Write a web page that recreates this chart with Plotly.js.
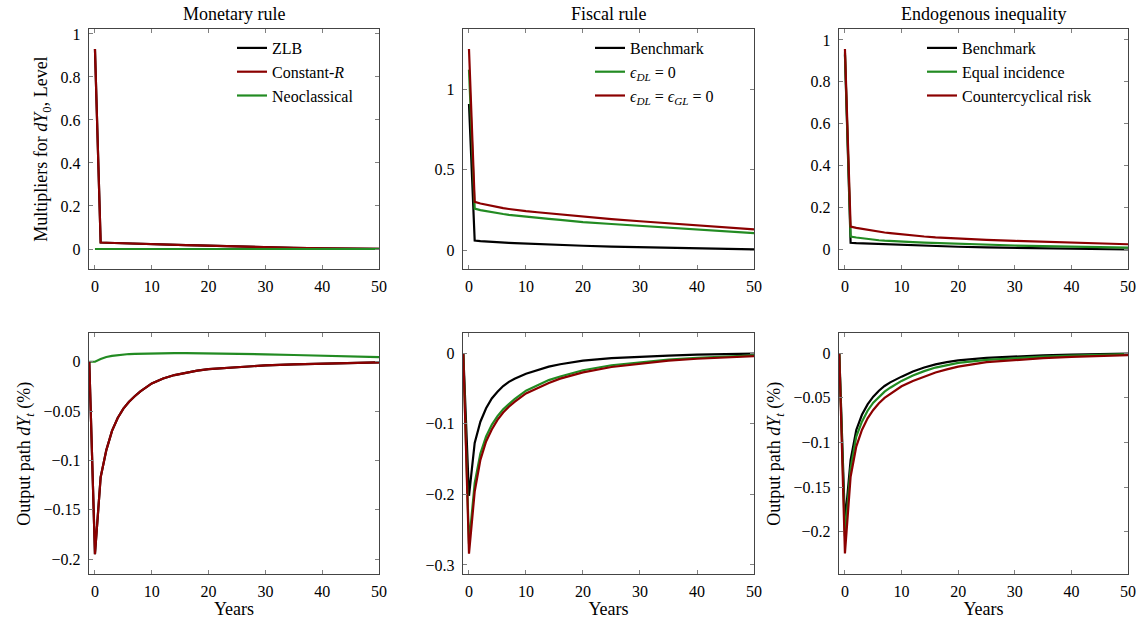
<!DOCTYPE html>
<html>
<head>
<meta charset="utf-8">
<script src="https://cdn.plot.ly/plotly-3.0.1.min.js"></script>
<style>html,body{margin:0;padding:0;background:#fff;}#chart{width:1141px;height:621px;}</style>
</head>
<body>
<div id="chart"></div>
<script>
// ---- time grids ----
const tTop = [0,1,2,3,4,5,6,7,8,10,12,14,16,18,20,25,30,35,40,45,50];
const tBot = [-1,0,1,2,3,4,5,6,7,8,10,12,14,16,18,20,25,30,35,40,45,50];

// ---- Panel 1: Monetary rule, multipliers ----
const monZLB   = [0.93,0.030,0.029,0.028,0.027,0.026,0.025,0.024,0.023,0.0215,0.0205,0.0195,0.018,0.0165,0.015,0.011,0.008,0.0055,0.0035,0.002,0.001];
const monConstR= [0.93,0.030,0.029,0.028,0.027,0.026,0.025,0.024,0.023,0.0215,0.0205,0.0195,0.018,0.0165,0.015,0.011,0.008,0.0055,0.0035,0.002,0.001];
const monNeo   = [0,0,0,0,0,0,0,0,0,0,0,0,0,0,0,0,0,0,0,0,0];

// ---- Panel 2: Fiscal rule, multipliers ----
const fisBench = [0.907,0.060,0.057,0.054,0.052,0.050,0.048,0.046,0.044,0.041,0.038,0.035,0.033,0.030,0.028,0.023,0.019,0.015,0.012,0.009,0.006];
const fisDL    = [1.12,0.258,0.249,0.242,0.236,0.230,0.225,0.220,0.216,0.208,0.201,0.195,0.189,0.182,0.175,0.163,0.152,0.140,0.128,0.117,0.106];
const fisDLGL  = [1.248,0.300,0.290,0.282,0.274,0.267,0.261,0.256,0.251,0.243,0.236,0.229,0.222,0.214,0.207,0.193,0.180,0.167,0.155,0.142,0.130];

// ---- Panel 3: Endogenous inequality, multipliers ----
const endBench = [0.93,0.033,0.031,0.030,0.028,0.027,0.025,0.024,0.023,0.021,0.019,0.018,0.017,0.015,0.014,0.011,0.009,0.006,0.004,0.002,0.001];
const endEqual = [0.94,0.063,0.058,0.054,0.051,0.048,0.045,0.043,0.041,0.038,0.036,0.034,0.032,0.030,0.028,0.024,0.020,0.017,0.014,0.012,0.010];
const endCounter=[0.957,0.110,0.104,0.099,0.094,0.090,0.086,0.082,0.079,0.073,0.068,0.063,0.059,0.056,0.053,0.047,0.042,0.038,0.034,0.030,0.026];

// ---- Panel 4: Monetary rule, output path ----
const pathZLB   = [0,-0.195,-0.117,-0.0895,-0.070,-0.057,-0.0475,-0.0405,-0.035,-0.030,-0.022,-0.017,-0.0135,-0.011,-0.009,-0.0074,-0.0052,-0.0037,-0.0027,-0.0019,-0.0012,-0.0007];
const pathConstR= [0,-0.195,-0.117,-0.0895,-0.070,-0.057,-0.0475,-0.0405,-0.035,-0.030,-0.022,-0.017,-0.0135,-0.011,-0.009,-0.0074,-0.0052,-0.0037,-0.0027,-0.0019,-0.0012,-0.0007];
const pathNeo   = [0,0,0.0027,0.0048,0.006,0.0067,0.0074,0.0078,0.008,0.0082,0.0085,0.0087,0.0088,0.0088,0.0087,0.0086,0.0082,0.0075,0.0068,0.006,0.0053,0.0046];

// ---- Panel 5: Fiscal rule, output path ----
const pathFisBench = [0,-0.202,-0.127,-0.097,-0.078,-0.064,-0.0545,-0.0465,-0.0405,-0.036,-0.029,-0.0235,-0.019,-0.0155,-0.0128,-0.0105,-0.007,-0.0048,-0.0033,-0.002,-0.0012,-0.0005];
const pathFisDL    = [0,-0.27,-0.184,-0.142,-0.118,-0.1015,-0.089,-0.0795,-0.072,-0.065,-0.053,-0.045,-0.038,-0.033,-0.028,-0.024,-0.017,-0.0125,-0.009,-0.0065,-0.0045,-0.003];
const pathFisDLGL  = [0,-0.284,-0.196,-0.151,-0.125,-0.108,-0.0945,-0.084,-0.0757,-0.069,-0.057,-0.049,-0.042,-0.036,-0.031,-0.027,-0.0195,-0.0145,-0.0105,-0.0078,-0.0055,-0.004];

// ---- Panel 6: Endogenous inequality, output path ----
const pathEndBench  = [0,-0.19,-0.1196,-0.086,-0.069,-0.0573,-0.0487,-0.042,-0.0367,-0.0326,-0.0262,-0.0205,-0.016,-0.0125,-0.010,-0.008,-0.0052,-0.0035,-0.0023,-0.0014,-0.0008,-0.0003];
const pathEndEqual  = [0,-0.205,-0.129,-0.0935,-0.0767,-0.0644,-0.0554,-0.0487,-0.043,-0.0386,-0.031,-0.025,-0.020,-0.016,-0.013,-0.0108,-0.0075,-0.0053,-0.0037,-0.0025,-0.0017,-0.001];
const pathEndCounter= [0,-0.2245,-0.1384,-0.1047,-0.086,-0.0729,-0.0636,-0.0561,-0.0501,-0.0456,-0.037,-0.031,-0.026,-0.0215,-0.018,-0.015,-0.010,-0.0075,-0.0055,-0.004,-0.003,-0.002];

// ---- labels ----
const panelTitles = ['Monetary rule','Fiscal rule','Endogenous inequality'];
const monNames = ['ZLB','Constant-<i>R</i>','Neoclassical'];
const fisNames = ['Benchmark','<i>ϵ</i><sub><i>DL</i></sub> = 0','<i>ϵ</i><sub><i>DL</i></sub> = <i>ϵ</i><sub><i>GL</i></sub> = 0'];
const endNames = ['Benchmark','Equal incidence','Countercyclical risk'];

const BLACK = '#000000', RED = '#8b0000', GREEN = '#228b22';
const LW = 2.2;
const FONT = '"Liberation Serif", "DejaVu Serif", serif';

function tr(x, y, name, color, xa, ya, legend, show) {
  return {x: x, y: y, name: name, type: 'scatter', mode: 'lines',
          line: {color: color, width: LW}, xaxis: xa, yaxis: ya,
          legend: legend, showlegend: show, hoverinfo: 'skip'};
}

const data = [
  tr(tTop, monZLB, monNames[0], BLACK, 'x', 'y', 'legend', true),
  tr(tTop, monConstR, monNames[1], RED, 'x', 'y', 'legend', true),
  tr(tTop, monNeo, monNames[2], GREEN, 'x', 'y', 'legend', true),

  tr(tTop, fisBench, fisNames[0], BLACK, 'x2', 'y2', 'legend2', true),
  tr(tTop, fisDL, fisNames[1], GREEN, 'x2', 'y2', 'legend2', true),
  tr(tTop, fisDLGL, fisNames[2], RED, 'x2', 'y2', 'legend2', true),

  tr(tTop, endBench, endNames[0], BLACK, 'x3', 'y3', 'legend3', true),
  tr(tTop, endEqual, endNames[1], GREEN, 'x3', 'y3', 'legend3', true),
  tr(tTop, endCounter, endNames[2], RED, 'x3', 'y3', 'legend3', true),

  tr(tBot, pathNeo, monNames[2], GREEN, 'x4', 'y4', 'legend', false),
  tr(tBot, pathZLB, monNames[0], BLACK, 'x4', 'y4', 'legend', false),
  tr(tBot, pathConstR, monNames[1], RED, 'x4', 'y4', 'legend', false),

  tr(tBot, pathFisBench, fisNames[0], BLACK, 'x5', 'y5', 'legend', false),
  tr(tBot, pathFisDL, fisNames[1], GREEN, 'x5', 'y5', 'legend', false),
  tr(tBot, pathFisDLGL, fisNames[2], RED, 'x5', 'y5', 'legend', false),

  tr(tBot, pathEndBench, endNames[0], BLACK, 'x6', 'y6', 'legend', false),
  tr(tBot, pathEndEqual, endNames[1], GREEN, 'x6', 'y6', 'legend', false),
  tr(tBot, pathEndCounter, endNames[2], RED, 'x6', 'y6', 'legend', false)
];

const W = 1141, H = 621;
const colPx = [[89,379],[463,754],[839,1128]];
const rowPx = [[29,269],[333.3,574]];
const colDom = colPx.map(c => [c[0]/W, c[1]/W]);
const rowDom = rowPx.map(r => [1 - r[1]/H, 1 - r[0]/H]);

function xax(col, row, title) {
  const a = {
    domain: colDom[col], range: [-1.05, 50], anchor: row === 0 ? ['y','y2','y3'][col] : ['y4','y5','y6'][col],
    tickvals: [0,10,20,30,40,50], ticks: 'inside', ticklen: 4, tickwidth: 1, tickcolor: '#808080',
    showline: true, linecolor: '#444444', linewidth: 1.3, mirror: 'allticks',
    showgrid: false, zeroline: false, tickfont: {family: FONT, size: 16, color: '#000'}, ticklabelstandoff: 2
  };
  if (title) a.title = {text: title, font: {family: FONT, size: 18, color: '#000'}, standoff: 4};
  return a;
}
function yax(col, row, range, tickvals, title) {
  const a = {
    domain: rowDom[row], range: range, anchor: row === 0 ? ['x','x2','x3'][col] : ['x4','x5','x6'][col],
    tickvals: tickvals, ticks: 'inside', ticklen: 4, tickwidth: 1, tickcolor: '#808080',
    showline: true, linecolor: '#444444', linewidth: 1.3, mirror: 'allticks',
    showgrid: false, zeroline: false, tickfont: {family: FONT, size: 16, color: '#000'}, ticklabelstandoff: 4
  };
  if (title) a.title = {text: title, font: {family: FONT, size: 18, color: '#000'}, standoff: 8};
  return a;
}

function leg(xpx) {
  return {x: xpx / W, y: 1 - 31 / H, xanchor: 'left', yanchor: 'top',
          bgcolor: 'rgba(0,0,0,0)', borderwidth: 0,
          font: {family: FONT, size: 16, color: '#000'}, tracegroupgap: 0, itemwidth: 30};
}

const layout = {
  width: W, height: H, margin: {l: 0, r: 0, t: 0, b: 0},
  paper_bgcolor: '#fff', plot_bgcolor: '#fff',
  font: {family: FONT, size: 16, color: '#000'},
  xaxis: xax(0, 0), xaxis2: xax(1, 0), xaxis3: xax(2, 0),
  xaxis4: xax(0, 1, 'Years'), xaxis5: xax(1, 1, 'Years'), xaxis6: xax(2, 1, 'Years'),
  yaxis: yax(0, 0, [-0.093, 1.023], [0,0.2,0.4,0.6,0.8,1], 'Multipliers for <i>dY</i><sub>0</sub>, Level'),
  yaxis2: yax(1, 0, [-0.116, 1.372], [0,0.5,1]),
  yaxis3: yax(2, 0, [-0.092, 1.052], [0,0.2,0.4,0.6,0.8,1]),
  yaxis4: yax(0, 1, [-0.215, 0.0288], [-0.2,-0.15,-0.1,-0.05,0], 'Output path <i>dY<sub>t</sub></i> (%)'),
  yaxis5: yax(1, 1, [-0.3128, 0.0283], [-0.3,-0.2,-0.1,0]),
  yaxis6: yax(2, 1, [-0.2475, 0.0224], [-0.2,-0.15,-0.1,-0.05,0], 'Output path <i>dY<sub>t</sub></i> (%)'),
  legend: leg(232), legend2: leg(590), legend3: leg(922),
  annotations: panelTitles.map((t, i) => ({
    text: t, xref: 'paper', yref: 'paper',
    x: (colPx[i][0] + colPx[i][1]) / 2 / W, y: 1 - 14 / H,
    xanchor: 'center', yanchor: 'middle', showarrow: false,
    font: {family: FONT, size: 18, color: '#000'}
  }))
};

Plotly.newPlot('chart', data, layout, {displayModeBar: false, staticPlot: true});
</script>
</body>
</html>
